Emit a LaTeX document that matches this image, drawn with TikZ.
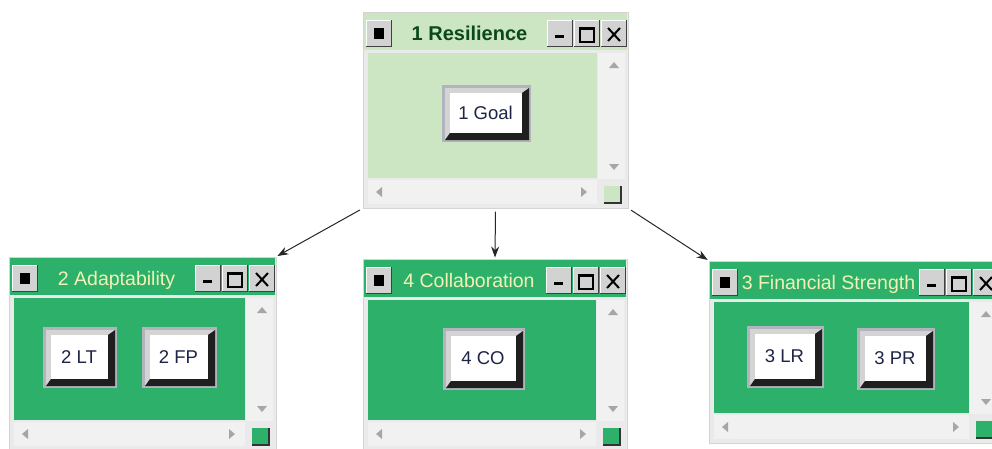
\documentclass[tikz,border=0pt]{standalone}
\usepackage{fontspec}
\setmainfont{Liberation Sans}
\usetikzlibrary{fit,arrows.meta}
\definecolor{lightleaf}{HTML}{CCE5C3}
\definecolor{leaf}{HTML}{2DB16A}
\definecolor{darkleaf}{HTML}{0B4A18}
\definecolor{paleleaf}{HTML}{F3F1B5}
\definecolor{winbg}{HTML}{EAEAEA}
\definecolor{winedge}{HTML}{D4D4D4}
\definecolor{track}{HTML}{F1F1F1}
\definecolor{rim}{HTML}{B3B3BE}
\definecolor{bevel}{HTML}{D4D4D4}
\definecolor{ctlface}{HTML}{D2D2D2}
\definecolor{ink}{HTML}{1E2446}

% small title-bar button: x1 y1 x2 y2
\newcommand{\ctl}[4]{%
  \fill[ctlface] (#1,#2) rectangle (#3,#4);
  \draw[white, line width=1pt] (#1+0.5,#4) -- (#1+0.5,#2+0.5) -- (#3,#2+0.5);
  \draw[black!75, line width=1.4pt] (#1,#4-0.7) -- (#3-0.7,#4-0.7) -- (#3-0.7,#2);
}
% window: name, L, T, R, B, title, colour, title style
\newcommand{\gwin}[8]{%
  \node[winframe, fit={(#2,#3) (#4,#5)}] (#1) {};
  \fill[#7] (#2+1,#3+1) rectangle (#4-1,#3+38);
  \fill[track] (#4-30,#3+41) rectangle (#4-3,#5-29);
  \fill[track] (#2+5,#5-28) rectangle (#4-31,#5-4);
  \fill[#7] (#2+5,#3+41) rectangle (#4-31,#5-30);
  \ctl{#2+3}{#3+8}{#2+29}{#3+35}
  \fill[black] (#2+11,#3+16) rectangle (#2+21,#3+27);
  \foreach \o in {81,54,27}
    \ctl{#4-\o}{#3+8}{#4-\o+26}{#3+35};
  \fill[black] (#4-81+8,#3+23) rectangle (#4-81+17,#3+26);
  \draw[black, line width=1.2pt] (#4-54+6,#3+16) rectangle (#4-54+20,#3+30);
  \draw[black, line width=1.4pt] (#4-54+6,#3+17) -- (#4-54+20,#3+17);
  \draw[black, line width=2pt] (#4-27+7,#3+16) -- (#4-27+19,#3+29)
    (#4-27+19,#3+16) -- (#4-27+7,#3+29);
  \node[#8] (#1-title) at ({(#2+#4)/2-26},#3+28) {#6};
  % scroll arrows
  \fill[gray!70] (#4-14,#3+50) -- (#4-19,#3+56) -- (#4-9,#3+56) -- cycle;
  \fill[gray!70] (#4-14,#5-38) -- (#4-19,#5-44) -- (#4-9,#5-44) -- cycle;
  \fill[gray!70] (#2+13,#5-16) -- (#2+19,#5-21) -- (#2+19,#5-11) -- cycle;
  \fill[gray!70] (#4-41,#5-16) -- (#4-47,#5-21) -- (#4-47,#5-11) -- cycle;
  % corner box
  \fill[#7] (#4-24,#5-22) rectangle (#4-7,#5-5);
  \draw[black!80, line width=1.2pt] (#4-24,#5-5) -- (#4-7,#5-5) -- (#4-7,#5-22);
}
% button: name, x1, y1, x2, y2, label
\newcommand{\fbutton}[6]{%
  \fill[rim] (#2,#3) rectangle (#4,#5);
  \fill[bevel] (#2+3,#3+3) rectangle (#4-2,#5-2);
  \fill[black!88] (#2+3,#5-2) -- (#4-2,#5-2) -- (#4-2,#3+3) -- (#4-9,#3+8)
    -- (#4-9,#5-9) -- (#2+8,#5-9) -- cycle;
  \fill[white] (#2+8,#3+8) rectangle (#4-9,#5-9);
  \node[btnlabel] (#1) at ({(#2+#4)/2-1},{(#3+#5)/2-0.5}) {#6};
}

\begin{document}
\begin{tikzpicture}[x=1pt,y=-1pt,
  winframe/.style={draw=winedge, fill=winbg, inner sep=0pt, line width=1pt},
  titlelight/.style={anchor=base, text=paleleaf, inner sep=0pt,
    font=\fontsize{19.5}{20}\selectfont},
  titledark/.style={anchor=base, text=darkleaf, inner sep=0pt,
    font=\fontsize{20}{21}\selectfont\bfseries},
  btnlabel/.style={text=ink, inner sep=0pt, font=\fontsize{18.5}{19}\selectfont},
  link/.style={-{Stealth[length=11pt,width=8pt]}, line width=1pt, black!85,
    shorten <=3pt, shorten >=1pt}]
\clip (0,0) rectangle (992,448);
%windows
\gwin{top}{363}{12}{628}{208}{1 Resilience}{lightleaf}{titledark}
\gwin{adapt}{9}{257}{276}{450}{2 Adaptability}{leaf}{titlelight}
\gwin{collab}{363}{259}{627}{450}{4 Collaboration}{leaf}{titlelight}
\gwin{fin}{709}{261}{1000}{443}{3 Financial Strength}{leaf}{titlelight}
%buttons
\fbutton{goal}{442}{85}{531}{142}{1 Goal}
\fbutton{lt}{43}{327}{117}{388}{2 LT}
\fbutton{fp}{142}{327}{217}{388}{2 FP}
\fbutton{co}{443}{328}{525}{390}{4 CO}
\fbutton{lr}{747}{326}{824}{388}{3 LR}
\fbutton{pr}{857}{328}{935}{390}{3 PR}
%arrows
\draw[link] (top.south west) -- (adapt.north east);
\draw[link] (top.south) -- (collab.north);
\draw[link] (top.south east) -- (fin.north west);
\end{tikzpicture}
\end{document}
